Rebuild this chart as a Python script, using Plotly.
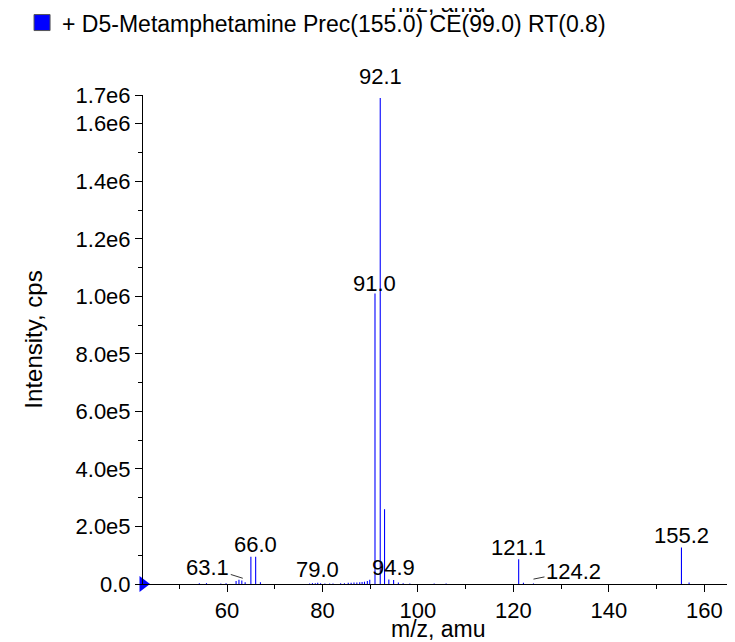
import plotly.graph_objects as go

# ---- data ----
mz = [54.2, 55.7, 58.7, 59.8, 61.9, 62.5, 63.1, 63.8, 65.0, 66.0, 67.0,
      77.3, 77.9, 78.5, 79.0, 79.6, 80.5, 81.5, 82.2, 83.8, 84.6, 85.4,
      86.0, 86.6, 87.2, 87.8, 88.3, 88.8, 89.4, 89.9, 91.0, 92.1, 93.0,
      93.9, 94.9, 95.9, 96.9, 98.3, 103.4, 105.9, 121.1, 122.1, 124.2,
      155.2, 156.8]
intensity = [3e3, 3e3, 2e3, 3e3, 1.0e4, 1.5e4, 1.2e4, 6e3, 9.5e4, 9.5e4, 6e3,
             2e3, 3e3, 3e3, 4e3, 3e3, 2e3, 2e3, 2e3, 3e3, 3e3, 4e3,
             4e3, 5e3, 5e3, 6e3, 7e3, 8e3, 1.0e4, 1.5e4, 1.01e6, 1.69e6, 2.6e5,
             1.6e4, 1.4e4, 5e3, 3e3, 2e3, 2e3, 2e3, 8.6e4, 4e3, 2e3,
             1.27e5, 5e3]

label_mz = ["92.1", "91.0", "66.0", "79.0", "94.9", "121.1", "155.2"]
label_x = [92.1, 91.0, 66.0, 79.0, 94.9, 121.1, 155.2]
label_y = [1.69e6, 1.01e6, 9.5e4, 4e3, 1.4e4, 8.6e4, 1.27e5]
label_shift = [7, -5, -2, -1, -2, -3, -3]

lead_labels = ["63.1", "124.2"]
lead_x = [63.3, 124.2]
lead_y = [2.0e4, 1.7e4]
lead_ax = [-35, 40]
lead_ay = [-11, -8]

x_ticks = [60, 80, 100, 120, 140, 160]
x_minor = [50, 70, 90, 110, 130, 150]
y_ticks = [0, 2e5, 4e5, 6e5, 8e5, 1.0e6, 1.2e6, 1.4e6, 1.6e6, 1.7e6]
y_ticktext = ["0.0", "2.0e5", "4.0e5", "6.0e5", "8.0e5", "1.0e6", "1.2e6",
              "1.4e6", "1.6e6", "1.7e6"]
y_minor = [1e5, 3e5, 5e5, 7e5, 9e5, 1.1e6, 1.3e6, 1.5e6]

X_RANGE = [42.4, 166.0]
Y_RANGE = [0, 1.7e6]

series_name = "+ D5-Metamphetamine Prec(155.0) CE(99.0) RT(0.8)"
x_title = "m/z, amu"
y_title = "Intensity, cps"

FONT = "Liberation Sans, Arial, sans-serif"
FS = 22
BLUE = "#0000FF"

# stick spectrum
sx, sy = [], []
for m, v in zip(mz, intensity):
    sx += [m, m, None]
    sy += [0, v, None]

fig = go.Figure()
fig.add_trace(go.Scatter(x=sx, y=sy, mode="lines",
                         line=dict(color=BLUE, width=1.1),
                         showlegend=False, hoverinfo="skip"))
# legend entry
fig.add_trace(go.Scatter(x=[None], y=[None], mode="markers", name=series_name,
                         marker=dict(symbol="square", size=17, color=BLUE,
                                     line=dict(color="#555555", width=1)),
                         showlegend=True))
# zero-level marker
fig.add_trace(go.Scatter(x=[X_RANGE[0]], y=[0], mode="markers",
                         marker=dict(symbol="triangle-right", size=14, color=BLUE),
                         cliponaxis=False, showlegend=False, hoverinfo="skip"))

for t, x, y, s in zip(label_mz, label_x, label_y, label_shift):
    fig.add_annotation(x=x, y=y, text=t, showarrow=False, yanchor="bottom",
                       yshift=s, font=dict(family=FONT, size=FS, color="black"))

for t, x, y, ax, ay in zip(lead_labels, lead_x, lead_y, lead_ax, lead_ay):
    fig.add_annotation(x=x, y=y, text=t, showarrow=True, arrowhead=0,
                       arrowwidth=0.8, arrowcolor="black", ax=ax, ay=ay,
                       standoff=0, font=dict(family=FONT, size=FS, color="black"))

# cut-off title remnant at the top
fig.add_annotation(xref="paper", yref="paper", x=0.5, y=1.156, yanchor="bottom",
                   text=x_title, showarrow=False,
                   font=dict(family=FONT, size=23, color="black"))
# x-axis title
fig.add_annotation(xref="paper", yref="paper", x=0.5, y=-0.092, yanchor="middle",
                   text=x_title, showarrow=False,
                   font=dict(family=FONT, size=23, color="black"))

fig.update_layout(
    width=735, height=642,
    margin=dict(l=135, r=10, t=87, b=66, autoexpand=False),
    paper_bgcolor="white", plot_bgcolor="white",
    font=dict(family=FONT, size=FS, color="black"),
    legend=dict(x=-0.205, y=1.192, xanchor="left", yanchor="top",
                font=dict(family=FONT, size=23, color="black"),
                itemsizing="trace", bgcolor="rgba(0,0,0,0)"),
    xaxis=dict(range=X_RANGE, showgrid=False, zeroline=False,
               showline=True, linecolor="black", linewidth=1,
               ticks="outside", ticklen=7, tickcolor="black",
               tickvals=x_ticks, ticktext=[str(v) for v in x_ticks],
               minor=dict(tickvals=x_minor, ticks="outside", ticklen=4,
                          tickcolor="black")),
    yaxis=dict(range=Y_RANGE, showgrid=False, zeroline=False,
               showline=True, linecolor="black", linewidth=1,
               ticks="outside", ticklen=7, tickcolor="black",
               tickvals=y_ticks, ticktext=y_ticktext,
               minor=dict(tickvals=y_minor, ticks="outside", ticklen=4,
                          tickcolor="black"),
               title=dict(text=y_title, standoff=26,
                          font=dict(family=FONT, size=24))),
)

fig.write_html("out.html")
